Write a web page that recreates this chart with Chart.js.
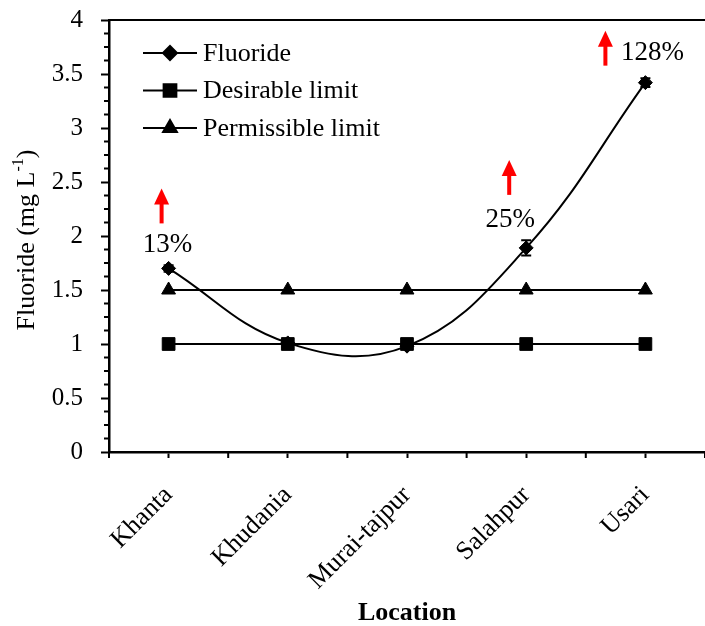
<!DOCTYPE html>
<html><head><meta charset="utf-8">
<script src="https://cdn.jsdelivr.net/npm/chart.js@4.4.0/dist/chart.umd.min.js"></script>
<style>html,body{margin:0;padding:0;background:#fff;overflow:hidden}#wrap{width:705px;height:626px}</style>
</head><body><div id="wrap"><canvas id="c" width="705" height="626"></canvas></div>
<script>
const locations = ['Khanta', 'Khudania', 'Murai-tajpur', 'Salahpur', 'Usari'];
const fluoride = [1.70, 1.01, 0.98, 1.89, 3.42];
const fluorideError = [0.03, 0.03, 0.02, 0.07, 0.04];
const desirableLimit = [1, 1, 1, 1, 1];
const permissibleLimit = [1.5, 1.5, 1.5, 1.5, 1.5];
const increaseLabels = ['13%', '', '', '25%', '128%'];
const seriesNames = ['Fluoride', 'Desirable limit', 'Permissible limit'];

const FONT = '"Liberation Serif", "Times New Roman", Times, serif';

const extras = {
  id: 'extras',
  afterDatasetsDraw(chart) {
    const ctx = chart.ctx, xs = chart.scales.x, ys = chart.scales.y;
    ctx.save();
    ctx.strokeStyle = '#000'; ctx.lineWidth = 2;
    fluoride.forEach((v, i) => {
      const x = xs.getPixelForValue(i);
      const y1 = ys.getPixelForValue(v + fluorideError[i]);
      const y2 = ys.getPixelForValue(v - fluorideError[i]);
      ctx.beginPath();
      ctx.moveTo(x, y1); ctx.lineTo(x, y2);
      ctx.moveTo(x - 5, y1); ctx.lineTo(x + 5, y1);
      ctx.moveTo(x - 5, y2); ctx.lineTo(x + 5, y2);
      ctx.stroke();
    });
    ctx.restore();
  },
  afterDraw(chart, args, opts) {
    const ctx = chart.ctx, xs = chart.scales.x, ys = chart.scales.y, ca = chart.chartArea;
    ctx.save();
    ctx.strokeStyle = '#000';
    ctx.lineWidth = 2;
    ctx.beginPath(); ctx.moveTo(ca.left, ca.top); ctx.lineTo(ca.right + 10, ca.top); ctx.stroke();
    for (let v = ys.min; v <= ys.max + 1e-9; v += 0.125) {
      if (Math.abs(v / 0.5 - Math.round(v / 0.5)) < 1e-6) continue;
      const y = ys.getPixelForValue(v);
      ctx.beginPath(); ctx.moveTo(ca.left - 5, y); ctx.lineTo(ca.left, y); ctx.stroke();
    }
    for (let i = -0.5; i <= locations.length - 0.5; i += 1) {
      const x = xs.getPixelForValue(i);
      ctx.beginPath(); ctx.moveTo(x, ca.bottom); ctx.lineTo(x, ca.bottom + 6); ctx.stroke();
    }
    const lg = opts.legend;
    chart.data.datasets.forEach((ds, k) => {
      const y = ca.top + lg.top + k * lg.gap;
      const x0 = ca.left + lg.left;
      ctx.strokeStyle = '#000'; ctx.lineWidth = 2;
      ctx.beginPath(); ctx.moveTo(x0, y); ctx.lineTo(x0 + lg.lineLen, y); ctx.stroke();
      ctx.fillStyle = '#000';
      Chart.helpers.drawPoint(ctx, {pointStyle: ds.pointStyle, radius: ds.pointRadius, rotation: 0, borderWidth: 1}, x0 + lg.lineLen / 2, y);
      ctx.fillStyle = '#000';
      ctx.font = '26px ' + FONT;
      ctx.textBaseline = 'middle'; ctx.textAlign = 'left';
      ctx.fillText(ds.label, x0 + lg.lineLen + 6, y + 1);
    });
    const cy = (ca.top + ca.bottom) / 2 + 4;
    const main = 'Fluoride (mg L', sup = '-1', end = ')';
    ctx.font = '26px ' + FONT; const w1 = ctx.measureText(main).width, w3 = ctx.measureText(end).width;
    ctx.font = '16px ' + FONT; const w2 = ctx.measureText(sup).width;
    const tot = w1 + w2 + w3;
    ctx.translate(opts.yTitleX, cy);
    ctx.rotate(-Math.PI / 2);
    ctx.textBaseline = 'alphabetic'; ctx.textAlign = 'left'; ctx.fillStyle = '#000';
    ctx.font = '26px ' + FONT; ctx.fillText(main, -tot / 2, 8);
    ctx.font = '16px ' + FONT; ctx.fillText(sup, -tot / 2 + w1, -3);
    ctx.font = '26px ' + FONT; ctx.fillText(end, -tot / 2 + w1 + w2, 8);
    ctx.setTransform(1, 0, 0, 1, 0, 0);
    opts.notes.forEach(n => {
      const txt = increaseLabels[n.index];
      if (!txt) return;
      const px = xs.getPixelForValue(n.index), py = ys.getPixelForValue(fluoride[n.index]);
      ctx.fillStyle = '#000'; ctx.font = '27px ' + FONT;
      ctx.textAlign = 'center'; ctx.textBaseline = 'middle';
      ctx.fillText(txt, px + n.tx, py + n.ty);
      const ax = px + n.ax, ab = py + n.ay, at = ab - 35;
      ctx.strokeStyle = '#ff0000'; ctx.fillStyle = '#ff0000'; ctx.lineWidth = 4;
      ctx.beginPath(); ctx.moveTo(ax, ab); ctx.lineTo(ax, at + 14); ctx.stroke();
      ctx.beginPath(); ctx.moveTo(ax, at); ctx.lineTo(ax - 7.5, at + 16); ctx.lineTo(ax + 7.5, at + 16); ctx.closePath(); ctx.fill();
    });
    ctx.restore();
  }
};

new Chart(document.getElementById('c'), {
  type: 'line',
  data: {
    labels: locations,
    datasets: [
      {label: seriesNames[0], data: fluoride, borderColor: '#000', backgroundColor: '#000', borderWidth: 2, tension: 0.4,
       pointStyle: 'rectRot', pointRadius: 7, pointBorderWidth: 1, pointBackgroundColor: '#000', pointBorderColor: '#000'},
      {label: seriesNames[1], data: desirableLimit, borderColor: '#000', backgroundColor: '#000', borderWidth: 2, tension: 0,
       pointStyle: 'rect', pointRadius: 9, pointBorderWidth: 1, pointBackgroundColor: '#000', pointBorderColor: '#000'},
      {label: seriesNames[2], data: permissibleLimit, borderColor: '#000', backgroundColor: '#000', borderWidth: 2, tension: 0,
       pointStyle: 'triangle', pointRadius: 8, pointBorderWidth: 1, pointBackgroundColor: '#000', pointBorderColor: '#000'}
    ]
  },
  options: {
    responsive: false, animation: false, devicePixelRatio: 1,
    layout: {autoPadding: false, padding: {top: 20, right: -4, bottom: 0, left: 0}},
    plugins: {
      legend: {display: false}, tooltip: {enabled: false},
      extras: {
        legend: {left: 34, top: 33, gap: 37.5, lineLen: 54},
        yTitleX: 26,
        notes: [
          {index: 0, tx: -1, ty: -23, ax: -7, ay: -45},
          {index: 3, tx: -16, ty: -28, ax: -17, ay: -53},
          {index: 4, tx: 7, ty: -30, ax: -40, ay: -17}
        ]
      }
    },
    scales: {
      x: {
        type: 'category', offset: true,
        grid: {display: true, drawOnChartArea: false, offset: false, tickLength: 6, tickWidth: 2, tickColor: '#000'},
        border: {display: true, color: '#000', width: 2.5},
        ticks: {color: '#000', font: {family: FONT, size: 26}, maxRotation: 45, minRotation: 45, padding: 22, autoSkip: false},
        title: {display: true, text: 'Location', color: '#000', font: {family: FONT, size: 26, weight: 'bold', lineHeight: 1}, padding: {top: 0, bottom: 0}},
        afterFit: s => { s.height = 174; s.paddingLeft = 0; s.paddingRight = 0; }
      },
      y: {
        min: 0, max: 4,
        grid: {display: true, drawOnChartArea: false, tickLength: 8, tickWidth: 2, tickColor: '#000'},
        border: {display: true, color: '#000', width: 2.5},
        ticks: {stepSize: 0.5, color: '#000', font: {family: FONT, size: 25}, padding: 18,
                callback: v => String(+Number(v).toFixed(2))},
        afterFit: s => { s.width = 109; s.paddingTop = 0; s.paddingBottom = 0; }
      }
    }
  },
  plugins: [extras]
});
</script></body></html>
